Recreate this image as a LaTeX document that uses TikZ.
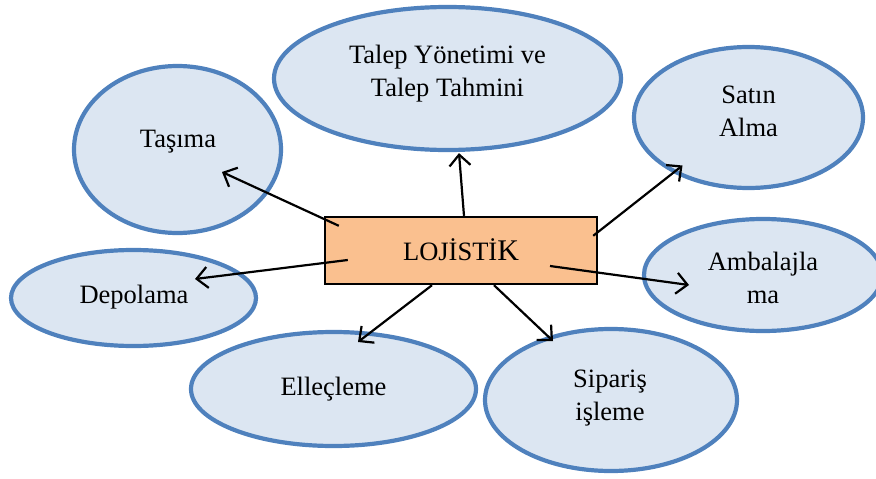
\documentclass[tikz,border=0pt]{standalone}
\usepackage{fontspec}
\setmainfont{Liberation Serif}
\usetikzlibrary{shapes.geometric,arrows.meta}
\definecolor{bubfill}{RGB}{220,230,242}
\definecolor{bubline}{RGB}{79,129,189}
\definecolor{boxfill}{RGB}{250,192,143}
\tikzset{
  bub/.style={ellipse, draw=bubline, fill=bubfill, line width=4.2pt, inner sep=0pt},
  lbl/.style={inner sep=0pt, align=center, font=\fontsize{26.5}{33}\selectfont},
  mainbox/.style={rectangle, draw=black, fill=boxfill, line width=2.4pt, inner sep=0pt,
    minimum width=272pt, minimum height=67pt},
  conn/.style={line width=2.2pt, draw=black, -{Straight Barb[length=11pt,width=21pt]}},
}
\begin{document}
\begin{tikzpicture}[x=1pt,y=-1pt]
\useasboundingbox (0,0) rectangle (876,479);
% ellipses
\node[bub, minimum width=207pt, minimum height=167pt] (e1) at (177.5,149.5) {};
\node[bub, minimum width=347pt, minimum height=143pt] (e2) at (447.5,78.5) {};
\node[bub, minimum width=229pt, minimum height=141pt] (e3) at (748.5,117.5) {};
\node[bub, minimum width=245pt, minimum height=96pt] (e4) at (133.5,298) {};
\node[bub, minimum width=238pt, minimum height=112pt] (e5) at (763,275) {};
\node[bub, minimum width=285pt, minimum height=114pt] (e6) at (333.5,389) {};
\node[bub, minimum width=252pt, minimum height=142pt] (e7) at (611,400) {};
% labels
\node[lbl] (t1) at ([shift={(0.5,-7.5)}]e1.center) {Taşıma};
\node[lbl] (t2) at ([shift={(0,-4.5)}]e2.center) {Talep Yönetimi ve\\Talep Tahmini};
\node[lbl] (t3) at ([shift={(0,-6.5)}]e3.center) {Satın\\Alma};
\node[lbl] (t4) at ([shift={(0.5,-1)}]e4.center) {Depolama};
\node[lbl] (t5) at ([shift={(0,2.5)}]e5.center) {Ambalajla\\ma};
\node[lbl] (t6) at ([shift={(0,0.5)}]e6.center) {Elleçleme};
\node[lbl] (t7) at ([shift={(-1,-2)}]e7.center) {Sipariş\\işleme};
% central box
\node[mainbox] (box) at (461,250.5) {};
\node[lbl] (bt) at ([shift={(0,-1)}]box.center) {LOJİSTİ{\fontsize{30}{30}\selectfont K}};
% connectors
\draw[conn] ([shift={(15,10)}]box.north west) -- ([shift={(44.5,22.5)}]e1.center);
\draw[conn] ([shift={(3,0)}]box.north) -- ([shift={(11.5,1)}]e2.south);
\draw[conn] ([shift={(-5,20)}]box.north east) -- ([shift={(-66,48)}]e3.center);
\draw[conn] ([shift={(24,9.5)}]box.west) -- ([shift={(61.5,-19)}]e4.center);
\draw[conn] ([shift={(89,15.5)}]box.center) -- ([shift={(-74,10)}]e5.center);
\draw[conn] ([shift={(-29,0)}]box.south) -- ([shift={(24.5,-47)}]e6.center);
\draw[conn] ([shift={(33,0)}]box.south) -- ([shift={(-58,-59)}]e7.center);
\end{tikzpicture}
\end{document}
